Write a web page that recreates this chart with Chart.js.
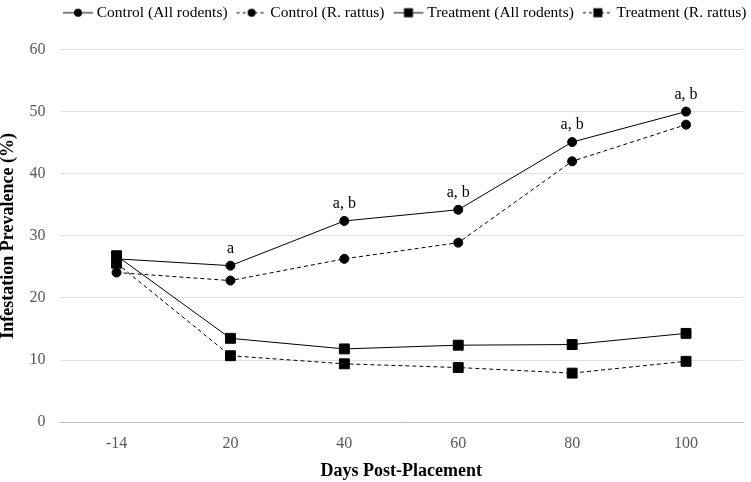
<!DOCTYPE html>
<html>
<head>
<meta charset="utf-8">
<script src="https://cdn.jsdelivr.net/npm/chart.js@4"></script>
<style>
  html, body { margin: 0; padding: 0; background: #fff; }
  #wrap { width: 751px; height: 482px; }
</style>
</head>
<body>
<div id="wrap"><canvas id="myChart" width="751" height="482"></canvas></div>
<script>
const days = ["-14", "20", "40", "60", "80", "100"];
const controlAll = [26.3, 25.2, 32.4, 34.2, 45.1, 50.0];
const controlRattus = [24.1, 22.8, 26.3, 28.9, 42.0, 47.9];
const treatmentAll = [26.8, 13.5, 11.8, 12.4, 12.5, 14.3];
const treatmentRattus = [25.6, 10.7, 9.4, 8.8, 7.9, 9.8];
const sigLabels = ["", "a", "a, b", "a, b", "a, b", "a, b"];

const ctx = document.getElementById("myChart").getContext("2d");

// little line+marker swatch for the legend
function swatch(shape, dashed) {
  const c = document.createElement("canvas");
  c.width = 32; c.height = 12;
  const g = c.getContext("2d");
  g.strokeStyle = "#000";
  g.lineWidth = 1;
  if (dashed) g.setLineDash([3, 3]);
  g.beginPath(); g.moveTo(1, 6); g.lineTo(31, 6); g.stroke();
  g.fillStyle = "#000";
  if (shape === "circle") {
    g.beginPath(); g.arc(16, 6, 4, 0, Math.PI * 2); g.fill();
  } else {
    g.fillRect(11.5, 1.5, 9, 9);
  }
  return c;
}

const sigPlugin = {
  id: "sigLabels",
  beforeInit(chart) {
    // keep the legend on one row and leave a bit more room under it
    const fit = chart.legend.fit;
    chart.legend.fit = function () {
      const mw = this.maxWidth;
      this.maxWidth = 1000;
      fit.bind(chart.legend)();
      this.maxWidth = mw;
      this.width = Math.min(this.width, mw);
      this.height += 11;
    };
  },
  afterLayout(chart) {
    // nudge the legend row to where the original sits
    const lg = chart.legend;
    lg.left = 54;
    lg.right = 800;
    lg.top -= 8;
  },
  afterDatasetsDraw(chart) {
    const meta = chart.getDatasetMeta(0);
    const c = chart.ctx;
    c.save();
    c.font = "16px 'Liberation Serif'";
    c.fillStyle = "#000";
    c.textAlign = "center";
    c.textBaseline = "bottom";
    meta.data.forEach((pt, i) => {
      if (sigLabels[i]) c.fillText(sigLabels[i], pt.x, pt.y - 9);
    });
    c.restore();
  }
};

const lineDefaults = { borderColor: "#000", backgroundColor: "#000", borderWidth: 1, tension: 0 };

let chart = new Chart(ctx, {
  type: "line",
  data: {
    labels: days,
    datasets: [
      { ...lineDefaults, label: "Control (All rodents)", data: controlAll, pointStyle: "circle", pointRadius: 4.5 },
      { ...lineDefaults, label: "Control (R. rattus)", data: controlRattus, pointStyle: "circle", pointRadius: 4.5, borderDash: [4, 3] },
      { ...lineDefaults, label: "Treatment (All rodents)", data: treatmentAll, pointStyle: "rect", pointRadius: 7 },
      { ...lineDefaults, label: "Treatment (R. rattus)", data: treatmentRattus, pointStyle: "rect", pointRadius: 7, borderDash: [4, 3] },
    ],
  },
  options: {
    responsive: false,
    animation: false,
    layout: { padding: { left: -2, right: 8, top: 0, bottom: 0 } },
    plugins: {
      tooltip: { enabled: false },
      legend: {
        position: "top",
        align: "start",
        labels: {
          usePointStyle: true,
          pointStyleWidth: 22,
          boxHeight: 12,
          padding: 13,
          color: "#000",
          font: { family: "'Liberation Serif'", size: 15.5 },
          generateLabels(chart) {
            const shapes = [["circle", false], ["circle", true], ["rect", false], ["rect", true]];
            return chart.data.datasets.map((ds, i) => ({
              text: ds.label,
              pointStyle: swatch(shapes[i][0], shapes[i][1]),
              datasetIndex: i,
              fontColor: "#000",
              lineWidth: 0,
            }));
          },
        },
      },
    },
    scales: {
      x: {
        offset: true,
        grid: { display: false },
        border: { color: "#bfbfbf" },
        ticks: { color: "#595959", font: { family: "'Liberation Serif'", size: 16 }, padding: 4 },
        title: { display: true, text: "Days Post-Placement", color: "#000", font: { family: "'Liberation Serif'", size: 18, weight: "bold" }, padding: { top: 3, bottom: 0 } },
      },
      y: {
        min: 0,
        max: 60,
        ticks: { stepSize: 10, color: "#595959", font: { family: "'Liberation Serif'", size: 16 }, padding: 14 },
        grid: { color: "#e0e0e0", drawTicks: false },
        border: { display: false },
        title: { display: true, text: "Infestation Prevalence (%)", color: "#000", font: { family: "'Liberation Serif'", size: 18, weight: "bold" }, padding: { top: 0, bottom: -4 } },
      },
    },
  },
  plugins: [sigPlugin],
});
</script>
</body>
</html>
